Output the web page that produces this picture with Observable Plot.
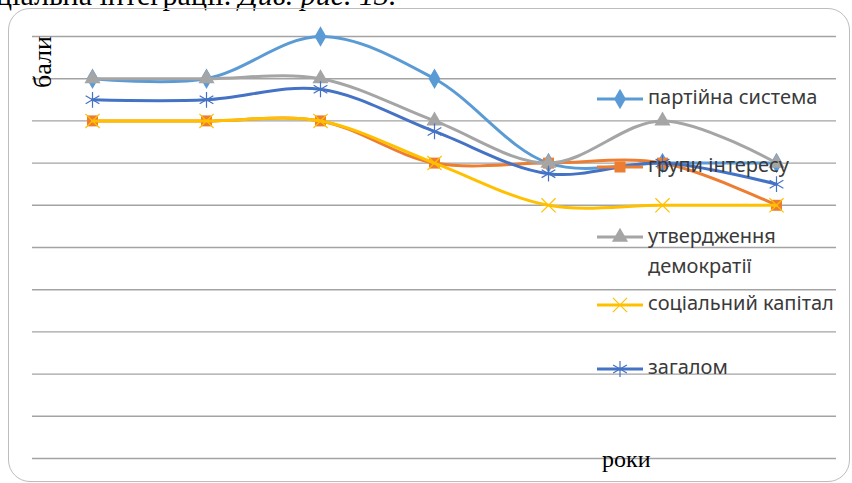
<!DOCTYPE html>
<html>
<head>
<meta charset="utf-8">
<script src="https://cdn.jsdelivr.net/npm/d3@7"></script>
<script src="https://cdn.jsdelivr.net/npm/@observablehq/plot@0.6"></script>
<style>
  html, body { margin: 0; padding: 0; background: #fff; }
  #wrap { position: relative; width: 852px; height: 483px; overflow: hidden; }
  #frame { position: absolute; left: 8px; top: 8px; width: 842px; height: 474px; border: 1px solid #bdbdbd; border-radius: 22px; box-sizing: border-box; }
  #toptext { position: absolute; left: -4px; top: -22px; font-family: "Liberation Serif", serif; font-size: 30px; color: #000; white-space: nowrap; }
  #chart { position: absolute; left: 0; top: 0; }
  .ylab { position: absolute; left: 28px; top: 88px; font-family: "Liberation Serif", serif; font-size: 26px; transform-origin: 0 0; transform: rotate(-90deg); color: #000; line-height: 30px; }
  .xlab { position: absolute; left: 602px; top: 446px; font-family: "Liberation Serif", serif; font-size: 24px; color: #000; }
  .leg { position: absolute; left: 597px; font-family: "Noto Sans", sans-serif; font-size: 20px; color: #3a3a3a; white-space: nowrap; }
  .leg svg { vertical-align: middle; margin-right: 5px; }
</style>
</head>
<body>
<div id="wrap">
  <div id="toptext">ціальна інтеграції. <i>Див. рис. 13.</i></div>
  <div id="frame"></div>
  <div id="chart"></div>
  <div class="ylab">бали</div>
  <div class="xlab">роки</div>
  <div id="legend"></div>
</div>
<script>
const years = ["1", "2", "3", "4", "5", "6", "7"];
const seriesNames = ["партійна система", "групи інтересу", "утвердження демократії", "соціальний капітал", "загалом"];
const partyValues = [9, 9, 10, 9, 7, 7, 7];
const groupsValues = [8, 8, 8, 7, 7, 7, 6];
const democracyValues = [9, 9, 9, 8, 7, 8, 7];
const capitalValues = [8, 8, 8, 7, 6, 6, 6];
const overallValues = [8.5, 8.5, 8.75, 7.75, 6.75, 7, 6.5];
const gridValues = [0, 1, 2, 3, 4, 5, 6, 7, 8, 9, 10];

const colors = ["#5B9BD5", "#ED7D31", "#A5A5A5", "#FFC000", "#4472C4"];
const symbols = ["diamond", "square", "triangle", "times", "asterisk"];
const filled = [true, true, true, false, false];
const sizes = [6.2, 6.2, 6, 6.5, 7.5];

const allValues = [partyValues, groupsValues, democracyValues, capitalValues, overallValues];
const data = [];
allValues.forEach((vals, i) => vals.forEach((v, j) => data.push({series: seriesNames[i], year: years[j], value: v})));

const marks = [
  Plot.ruleY(gridValues, {stroke: "#a3a3a3", strokeWidth: 1.4})
];
seriesNames.forEach((name, i) => {
  const d = data.filter(e => e.series === name);
  marks.push(Plot.line(d, {x: "year", y: "value", stroke: colors[i], strokeWidth: 3, curve: "catmull-rom"}));
  marks.push(Plot.dot(d, filled[i]
    ? {x: "year", y: "value", symbol: () => symbols[i], fill: colors[i], stroke: "none", r: sizes[i]}
    : {x: "year", y: "value", symbol: () => symbols[i], stroke: colors[i], fill: "none", strokeWidth: 1.2, r: sizes[i]}));
});

const chart = Plot.plot({
  width: 852,
  height: 483,
  marginLeft: 32,
  marginRight: 16,
  marginTop: 36,
  marginBottom: 25,
  x: {type: "point", domain: years, padding: 0.5, axis: null},
  y: {domain: [0, 10], axis: null},
  symbol: {type: "identity"},
  style: {background: "transparent"},
  marks
});
document.getElementById("chart").appendChild(chart);

// legend
const legendTops = [97, 165, 236, 303, 367];
const legend = document.getElementById("legend");
const symMap = {diamond: d3.symbolDiamond, square: d3.symbolSquare, triangle: d3.symbolTriangle, times: d3.symbolTimes, asterisk: d3.symbolAsterisk};
seriesNames.forEach((name, i) => {
  const div = document.createElement("div");
  div.className = "leg";
  const ns = "http://www.w3.org/2000/svg";
  const svg = document.createElementNS(ns, "svg");
  svg.setAttribute("width", 46); svg.setAttribute("height", 20);
  const line = document.createElementNS(ns, "line");
  line.setAttribute("x1", 0); line.setAttribute("x2", 46); line.setAttribute("y1", 10); line.setAttribute("y2", 10);
  line.setAttribute("stroke", colors[i]); line.setAttribute("stroke-width", 3);
  svg.appendChild(line);
  const path = document.createElementNS(ns, "path");
  path.setAttribute("d", d3.symbol(symMap[symbols[i]], Math.PI * sizes[i] * sizes[i])());
  path.setAttribute("transform", "translate(23,10)");
  if (filled[i]) { path.setAttribute("fill", colors[i]); }
  else { path.setAttribute("fill", "none"); path.setAttribute("stroke", colors[i]); path.setAttribute("stroke-width", 1.2); }
  svg.appendChild(path);
  div.appendChild(svg);
  if (i === 2) {
    const span = document.createElement("span");
    span.innerHTML = "утвердження<br>демократії";
    span.style.display = "inline-block";
    span.style.verticalAlign = "top";
    span.style.lineHeight = "30px";
    div.appendChild(span);
    div.style.top = (legendTops[i] - 15) + "px";
  } else {
    div.appendChild(document.createTextNode(name));
    div.style.top = (legendTops[i] - 14) + "px";
  }
  legend.appendChild(div);
});
</script>
</body>
</html>
